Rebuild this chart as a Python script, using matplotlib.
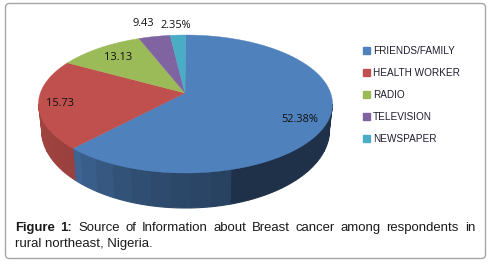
import numpy as np
import matplotlib
matplotlib.use('Agg')
import matplotlib.pyplot as plt
from matplotlib.patches import FancyBboxPatch, Patch

categories = ['FRIENDS/FAMILY', 'HEALTH WORKER', 'RADIO', 'TELEVISION', 'NEWSPAPER']
# printed labels do not follow the drawn slices, so both are kept
value_labels = ['52.38%', '15.73', '13.13', '9.43', '2.35%']
# slice sweep in degrees
slice_sweep = [230, 76.6, 35, 12.4, 6]
colors = ['#4f81bd', '#c0504d', '#9bbb59', '#8064a2', '#4bacc6']
label_pos = [(300, 119), (60, 103), (118, 58), (143, 24), (176, 25)]

caption_bold = 'Figure 1:'
caption_line1 = 'Source of Information about Breast cancer among respondents in'
caption_line2 = 'rural northeast, Nigeria.'

# the tilted pie: top face and the lower rim are separate ellipses
cx, cy, a, b = 185.5, 104, 147, 69
a2, cy2, b2 = 144, 130, 78
apex = (185, 93)


def top_edge(t):
    r = np.radians(t)
    return cx + a * np.sin(r), cy - b * np.cos(r)


def low_edge(t):
    r = np.radians(t)
    return cx + a2 * np.sin(r), cy2 - b2 * np.cos(r)


def side_shade(t):
    # how dark the rim gets, by angle
    if t < 158:
        return 0.38
    return np.interp(t, [158, 200, 230, 270], [0.5, 0.62, 0.8, 0.85])


fig = plt.figure(figsize=(4.94, 2.68), dpi=100)
ax = fig.add_axes([0, 0, 1, 1])
ax.set_xlim(0, 494)
ax.set_ylim(268, 0)
ax.axis('off')

ax.add_patch(FancyBboxPatch((5.5, 3.5), 480, 255, boxstyle='round,pad=0,rounding_size=4',
                            fc='white', ec='#a6a6a6', lw=1.0))

start = 0
for sweep, col in zip(slice_sweep, colors):
    end = start + sweep
    # rim first, in short steps so the shading shows bands
    steps = np.arange(max(start, 90), min(end, 270), 8.0)
    base = np.array(matplotlib.colors.to_rgb(col))
    for s in steps:
        e = min(s + 8.0, min(end, 270))
        tt = np.linspace(s, e, 6)
        tx, ty = top_edge(tt)
        lx, ly = low_edge(tt[::-1])
        shade = base * side_shade(s)
        ax.fill(np.r_[tx, lx], np.r_[ty, ly], fc=shade, ec=shade, lw=0.8)
    tt = np.linspace(start, end, 80)
    x, y = top_edge(tt)
    ax.fill(np.r_[apex[0], x], np.r_[apex[1], y], fc=col, ec=col, lw=0.3)
    start = end

for txt, (px, py) in zip(value_labels, label_pos):
    ax.text(px, py, txt, ha='center', va='center', fontsize=7.9, family='Open Sans', color='#101010')

handles = [Patch(color=c, label=n) for c, n in zip(colors, categories)]
ax.legend(handles=handles, loc='upper left', bbox_to_anchor=(363 / 494, 1 - 46 / 268), frameon=False,
          prop={'family': 'Liberation Sans', 'size': 7.2}, handlelength=0.65, handleheight=0.65,
          handletextpad=0.35, labelspacing=1.2, borderpad=0, borderaxespad=0, labelcolor='#1f1f2f')

# caption, first line spread out to the full width
renderer = fig.canvas.get_renderer()
words = [(w, True) for w in caption_bold.split()] + [(w, False) for w in caption_line1.split()]
arts = []
for w, bold in words:
    arts.append(ax.text(0, 228, w, fontsize=9.45, family='Liberation Sans', va='center', color='#1a1a1a',
                        fontweight='bold' if bold else 'normal'))
widths = [t.get_window_extent(renderer).width for t in arts]
gap = (475 - 15 - sum(widths)) / (len(arts) - 1)
x = 15
for t, w in zip(arts, widths):
    t.set_x(x)
    x += w + gap
ax.text(15, 244, caption_line2, fontsize=9.45, family='Liberation Sans', va='center', color='#1a1a1a')

fig.savefig('out.png', dpi=100)
